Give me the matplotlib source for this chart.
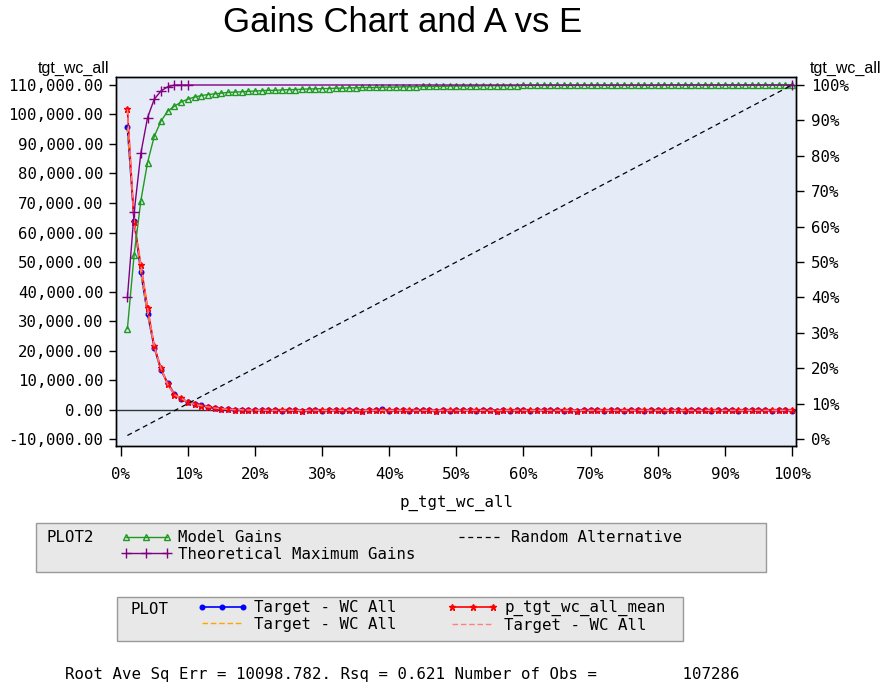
import matplotlib
matplotlib.use('Agg')
import matplotlib.pyplot as plt
from matplotlib.patches import Rectangle
from matplotlib.ticker import FuncFormatter

# ---- data ----
pct = list(range(1, 101))

# cumulative gains, % (right axis)
model_gains = [31.2, 52.0, 67.3, 78.1, 85.5, 89.8, 92.6, 94.0, 95.2, 96.0,
               96.6, 97.0, 97.3, 97.5, 97.7, 97.9, 98.0, 98.1, 98.2, 98.3,
               98.4, 98.5, 98.5, 98.6, 98.7, 98.7, 98.8, 98.9, 98.9, 99.0,
               99.0, 99.1, 99.1, 99.2, 99.2, 99.3, 99.3, 99.3, 99.4, 99.4,
               99.4, 99.5, 99.5, 99.5, 99.6, 99.6, 99.6, 99.6, 99.7, 99.7,
               99.7, 99.7, 99.7, 99.8, 99.8, 99.8, 99.8, 99.8, 99.8, 99.9,
               99.9, 99.9, 99.9, 99.9, 99.9, 99.9, 99.9, 99.9, 99.9, 99.9,
               99.9, 99.9, 99.9, 99.9, 99.9, 99.9, 99.9, 99.9, 99.9, 99.9,
               100.0, 100.0, 100.0, 100.0, 100.0, 100.0, 100.0, 100.0, 100.0, 100.0,
               100.0, 100.0, 100.0, 100.0, 100.0, 100.0, 100.0, 100.0, 100.0, 100.0]

theo_pct = [1, 2, 3, 4, 5, 6, 7, 8, 9, 10, 100]
theo_gains = [40.0, 64.0, 80.7, 90.8, 96.0, 98.3, 99.5, 100.0, 100.0, 100.0, 100.0]

random_pct = [1, 100]
random_gains = [1, 100]

# target (left axis)
target = [95600, 64000, 46500, 32400, 21000, 13300, 9000, 5300, 3600, 2500,
          1900, 1400, 800, 450, 200, 100, 0, -100, -150, -200,
          -250, -300, -200, -350, -300, -250, -400, -300, -200, -350,
          -300, -250, -350, -200, -300, -400, -250, -300, 100, -350,
          -300, -250, -350, -300, -200, -300, -400, -250, -350, -300,
          -300, -200, -350, -300, -250, -400, -300, -350, -250, -300,
          -350, -300, -250, -300, -200, -350, -300, -400, -250, -300,
          -300, -350, -250, -300, -350, -200, -300, -350, -250, -300,
          -350, -300, -250, -350, -300, -300, -250, -350, -300, -250,
          -300, -350, -250, -300, -200, -300, -350, -100, -300, -350]

target_mean = [101800, 63500, 49000, 34400, 21500, 14000, 8500, 5000, 3800, 2600,
               1700, 1300, 900, 500, 250, 50, -50, -100, -200, -200,
               -250, -300, -300, -300, -250, -300, -350, -300, -300, -300,
               -300, -300, -300, -250, -300, -350, -300, -300, -300, -300,
               -300, -300, -300, -300, -300, -300, -350, -300, -300, -300,
               -300, -300, -300, -300, -300, -350, -300, -300, -300, -300,
               -300, -300, -300, -300, -300, -300, -300, -350, -300, -300,
               -300, -300, -300, -300, -300, -300, -300, -300, -300, -300,
               -300, -300, -300, -300, -300, -300, -300, -300, -300, -300,
               -300, -300, -300, -300, -300, -300, -300, -300, -300, -300]

yticks_left = list(range(-10000, 110001, 10000))
yticks_right = list(range(0, 101, 10))
xticks = list(range(0, 101, 10))

# ---- figure ----
W, H = 884, 686
def fx(x):
    return x / W
def fy(y):
    return 1 - y / H

mono = 'DejaVu Sans Mono'
fs = 11.3
plt.rcParams['font.family'] = mono

fig = plt.figure(figsize=(W / 100, H / 100), dpi=100)
ax = fig.add_axes([fx(116), fy(446), (796 - 116) / W, (446 - 77) / H])
ax.set_facecolor('#E6ECF7')
ax2 = ax.twinx()

ax.axhline(0, color='#333333', lw=1, zorder=1)

h_target, = ax.plot(pct, target, color='#0000FF', lw=1.2, marker='o', ms=3.3,
                    label='Target - WC All')
h_target2, = ax.plot(pct, target, color='#FFA500', lw=1, ls=(0, (4, 2)),
                     label='Target - WC All')
h_mean, = ax.plot(pct, target_mean, color='#FF0000', lw=1.2, marker='*', ms=5,
                  label='p_tgt_wc_all_mean')
h_mean2, = ax.plot(pct, target_mean, color='#FF8080', lw=1, ls=(0, (4, 2)),
                   label='Target - WC All')

h_model, = ax2.plot(pct, model_gains, color='#1E9A1E', lw=1, marker='^', ms=4.2,
                    mfc='none', mew=1, label='Model Gains')
h_theo, = ax2.plot(theo_pct, theo_gains, color='#800080', lw=1, marker='+', ms=7,
                   mew=1, label='Theoretical Maximum Gains')
h_rand, = ax2.plot(random_pct, random_gains, color='black', lw=0.9, ls=(0, (4, 3)),
                   label='Random Alternative')

ax.set_xlim(-0.7, 100.6)
ax.set_ylim(-12370, 112710)
ax2.set_ylim(-1.975, 102.26)

ax.set_xticks(xticks)
ax.xaxis.set_major_formatter(FuncFormatter(lambda v, p: f'{v:.0f}%'))
ax.set_yticks(yticks_left)
ax.yaxis.set_major_formatter(FuncFormatter(lambda v, p: f'{v:,.2f}'))
ax2.set_yticks(yticks_right)
ax2.yaxis.set_major_formatter(FuncFormatter(lambda v, p: f'{v:.0f}%'))

ax.tick_params(axis='x', direction='out', length=7, width=1, pad=8, labelsize=fs)
ax.tick_params(axis='y', direction='out', length=5, width=1, pad=4, labelsize=fs)
ax2.tick_params(axis='y', direction='out', length=6, width=1, pad=5, labelsize=fs)
for a in (ax, ax2):
    for s in a.spines.values():
        s.set_linewidth(1)
        s.set_color('black')

# titles / labels
fig.text(fx(403), fy(23), 'Gains Chart and A vs E', family='Liberation Sans',
         fontsize=25, ha='center', va='center')
fig.text(fx(73), fy(68), 'tgt_wc_all', family='Liberation Sans', fontsize=11.5,
         ha='center', va='center')
fig.text(fx(846), fy(68), 'tgt_wc_all', family='Liberation Sans', fontsize=11.5,
         ha='center', va='center')
fig.text(fx(456), fy(503), 'p_tgt_wc_all', fontsize=fs, ha='center', va='center')

# legend boxes
fig.add_artist(Rectangle((fx(36), fy(572)), (766 - 36) / W, (572 - 523) / H,
                         transform=fig.transFigure, facecolor='#E8E8E8',
                         edgecolor='#999999', lw=1, zorder=0))
fig.add_artist(Rectangle((fx(117), fy(641)), (683 - 117) / W, (641 - 597) / H,
                         transform=fig.transFigure, facecolor='#E8E8E8',
                         edgecolor='#999999', lw=1, zorder=0))

fig.text(fx(46), fy(538), 'PLOT2', fontsize=fs, ha='left', va='center')
fig.text(fx(130), fy(609), 'PLOT', fontsize=fs, ha='left', va='center')

leg_kw = dict(ncol=2, loc='upper left', frameon=False, handlelength=3.2,
              handletextpad=0.4, labelspacing=0.1, numpoints=3, borderpad=0,
              borderaxespad=0, prop=dict(family=mono, size=fs))
fig.legend(handles=[h_model, h_theo, h_rand], bbox_to_anchor=(fx(121), fy(530)),
           columnspacing=2.5, **leg_kw)
fig.legend(handles=[h_target, h_target2, h_mean, h_mean2],
           bbox_to_anchor=(fx(197), fy(600)), columnspacing=3.3, **leg_kw)

fig.text(fx(65), fy(675),
         'Root Ave Sq Err = 10098.782. Rsq = 0.621 Number of Obs =         107286',
         fontsize=fs, ha='left', va='center')

fig.savefig('out.png', dpi=100)
